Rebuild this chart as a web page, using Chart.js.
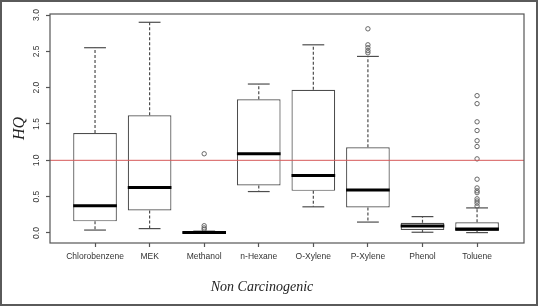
<!DOCTYPE html>
<html>
<head>
<meta charset="utf-8">
<script src="https://cdn.jsdelivr.net/npm/chart.js@4.4.1/dist/chart.umd.min.js"></script>
<style>
  html, body { margin: 0; padding: 0; background: #fff; }
  canvas { display: block; }
</style>
</head>
<body>
<canvas id="chart" width="538" height="306"></canvas>
<script>
// Box plot data (HQ per compound)
const categories = ['Chlorobenzene', 'MEK', 'Methanol', 'n-Hexane', 'O-Xylene', 'P-Xylene', 'Phenol', 'Toluene'];
const whiskerLow = [0.04, 0.06, 0.0, 0.57, 0.36, 0.15, 0.01, 0.005];
const q1 = [0.16, 0.31, 0.003, 0.655, 0.58, 0.35, 0.04, 0.027];
const median = [0.375, 0.625, 0.008, 1.09, 0.79, 0.59, 0.096, 0.055];
const q3 = [1.375, 1.62, 0.015, 1.84, 1.97, 1.18, 0.14, 0.147];
const whiskerHigh = [2.55, 2.90, 0.025, 2.05, 2.59, 2.43, 0.225, 0.345];
const outliers = [
  [],
  [],
  [1.09, 0.10, 0.07, 0.05],
  [],
  [],
  [2.81, 2.59, 2.55, 2.51, 2.48],
  [],
  [1.89, 1.78, 1.53, 1.41, 1.27, 1.19, 1.02, 0.74, 0.62, 0.58, 0.555, 0.47, 0.44, 0.41, 0.37]
];
const yTicks = [0, 0.5, 1, 1.5, 2, 2.5, 3];
const referenceHQ = 1.0;

const lineColor = '#4d4d4d';

// Outlier points as {x, y}
const outlierPoints = [];
outliers.forEach((list, i) => {
  list.forEach(v => outlierPoints.push({ x: i + 1, y: v }));
});

// Whiskers, caps, medians, reference line and frames
const boxplotExtras = {
  id: 'boxplotExtras',
  beforeDraw(chart) {
    const ctx = chart.ctx;
    ctx.save();
    ctx.fillStyle = '#fff';
    ctx.fillRect(0, 0, chart.width, chart.height);
    ctx.restore();
  },
  afterDatasetsDraw(chart) {
    const { ctx, chartArea, scales: { x, y } } = chart;
    const meta = chart.getDatasetMeta(0);
    const line = (x1, y1, x2, y2) => {
      ctx.beginPath();
      ctx.moveTo(x1, y1);
      ctx.lineTo(x2, y2);
      ctx.stroke();
    };
    ctx.save();
    categories.forEach((c, i) => {
      const half = meta.data[i].width / 2;
      const cx = x.getPixelForValue(i + 1);
      // whiskers
      ctx.strokeStyle = lineColor;
      ctx.lineWidth = 1.2;
      ctx.setLineDash([3, 2]);
      line(cx, y.getPixelForValue(q3[i]), cx, y.getPixelForValue(whiskerHigh[i]));
      line(cx, y.getPixelForValue(q1[i]), cx, y.getPixelForValue(whiskerLow[i]));
      // caps
      ctx.setLineDash([]);
      line(cx - half / 2, y.getPixelForValue(whiskerHigh[i]), cx + half / 2, y.getPixelForValue(whiskerHigh[i]));
      line(cx - half / 2, y.getPixelForValue(whiskerLow[i]), cx + half / 2, y.getPixelForValue(whiskerLow[i]));
      // median
      ctx.strokeStyle = '#000';
      ctx.lineWidth = 3;
      line(cx - half, y.getPixelForValue(median[i]), cx + half, y.getPixelForValue(median[i]));
    });
    // HQ = 1 line
    ctx.strokeStyle = '#d65a5a';
    ctx.lineWidth = 1;
    const ry = y.getPixelForValue(referenceHQ);
    line(chartArea.left, ry, chartArea.right, ry);
    // plot box
    ctx.strokeStyle = '#555';
    ctx.lineWidth = 1.2;
    ctx.strokeRect(chartArea.left, chartArea.top, chartArea.right - chartArea.left, chartArea.bottom - chartArea.top);
    ctx.restore();
  },
  afterDraw(chart) {
    const ctx = chart.ctx;
    ctx.save();
    ctx.strokeStyle = '#5a5a5a';
    ctx.lineWidth = 2;
    ctx.strokeRect(1, 1, chart.width - 2, chart.height - 2);
    ctx.restore();
  }
};

const tickFont = { family: 'Liberation Sans', size: 8.5 };

new Chart(document.getElementById('chart'), {
  type: 'bar',
  data: {
    datasets: [{
      type: 'bar',
      data: categories.map((c, i) => ({ x: i + 1, y: [q1[i], q3[i]] })),
      backgroundColor: '#fff',
      borderColor: lineColor,
      borderWidth: 1.2,
      borderSkipped: false,
      barPercentage: 0.8,
      categoryPercentage: 1
    }, {
      type: 'scatter',
      data: outlierPoints,
      pointStyle: 'circle',
      pointRadius: 2.2,
      borderWidth: 1,
      borderColor: '#666',
      backgroundColor: 'rgba(0,0,0,0)'
    }]
  },
  options: {
    responsive: false,
    animation: false,
    devicePixelRatio: 1,
    layout: { padding: { top: 14, right: 14, left: 0, bottom: 0 } },
    plugins: {
      legend: { display: false },
      tooltip: { enabled: false },
      title: {
        display: true,
        position: 'bottom',
        text: 'Non Carcinogenic',
        color: '#222',
        font: { family: 'Liberation Serif', style: 'italic', size: 14, weight: 'normal' },
        padding: { top: 4, bottom: 10 }
      }
    },
    scales: {
      x: {
        type: 'linear',
        offset: false,
        min: 0.175,
        max: 8.86,
        afterBuildTicks: s => { s.ticks = categories.map((c, i) => ({ value: i + 1 })); },
        afterFit: s => { s.height = 32.2; },
        ticks: {
          autoSkip: false,
          maxRotation: 0,
          padding: 5,
          color: '#333',
          font: tickFont,
          callback: (v, idx) => categories[idx]
        },
        grid: { offset: false, drawOnChartArea: false, tickLength: 4, tickColor: '#555', tickWidth: 1.2 },
        border: { display: false }
      },
      y: {
        min: -0.138,
        max: 3.014,
        afterBuildTicks: s => { s.ticks = yTicks.map(v => ({ value: v })); },
        afterFit: s => { s.width = 50; },
        ticks: {
          minRotation: 90,
          maxRotation: 90,
          crossAlign: 'center',
          padding: 3,
          color: '#333',
          font: tickFont,
          callback: v => v.toFixed(1)
        },
        grid: { drawOnChartArea: false, tickLength: 4, tickColor: '#555', tickWidth: 1.2 },
        border: { display: false },
        title: {
          display: true,
          text: 'HQ',
          color: '#222',
          font: { family: 'Liberation Serif', style: 'italic', size: 16, weight: 'normal' },
          padding: { top: 10, bottom: 0 }
        }
      }
    }
  },
  plugins: [boxplotExtras]
});
</script>
</body>
</html>
